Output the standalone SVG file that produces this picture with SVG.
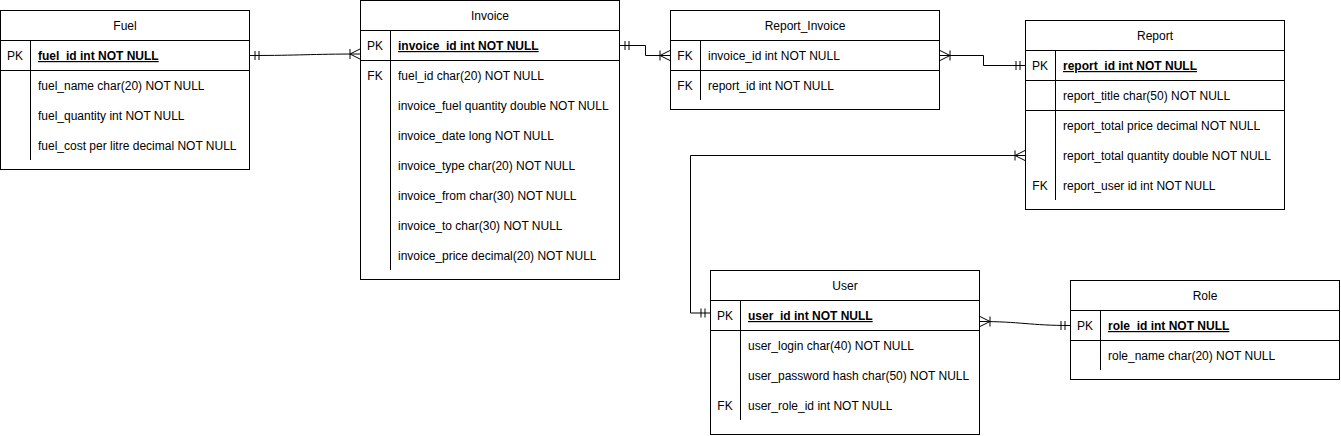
<svg xmlns="http://www.w3.org/2000/svg" width="1341" height="436" viewBox="0 0 1341 436">
<style>
.box{fill:#fff;stroke:#000;stroke-width:1}
.ln{stroke:#000;stroke-width:1;fill:none}
text{font-family:"Liberation Sans",Arial,sans-serif;font-size:12px;fill:#000}
.t{text-anchor:middle}
.k{text-anchor:middle}
.pk{font-weight:bold;text-decoration:underline}
.c{stroke:#000;stroke-width:1;fill:none}
</style>
<defs>
<marker id="one" markerUnits="userSpaceOnUse" markerWidth="20" markerHeight="20" viewBox="0 0 20 20" refX="20" refY="10" orient="auto-start-reverse">
<path d="M15,5.5V14.5M11,5.5V14.5" stroke="#000" stroke-width="1" fill="none"/>
</marker>
<marker id="many" markerUnits="userSpaceOnUse" markerWidth="20" markerHeight="20" viewBox="0 0 20 20" refX="20" refY="10" orient="auto-start-reverse">
<path d="M10,10L20,5M10,10L20,15M10,5V15" stroke="#000" stroke-width="1" fill="none"/>
</marker>
</defs>
<rect width="1341" height="436" fill="#fff"/>

<g id="connectors">
<path class="c" d="M250,55.5 C300,55.5 310,54 360,54" marker-start="url(#one)" marker-end="url(#many)"/>
<path class="c" d="M620,45.5 H645.5 V55.5 H670" marker-start="url(#one)" marker-end="url(#many)"/>
<path class="c" d="M940,55.5 H983.5 V65.5 H1025" marker-start="url(#many)" marker-end="url(#one)"/>
<path class="c" d="M1025,155.5 H690.5 V313 H710" marker-start="url(#many)" marker-end="url(#one)"/>
<path class="c" d="M980,321.5 C1020,321.5 1030,325.5 1070,325.5" marker-start="url(#many)" marker-end="url(#one)"/>
</g>

<g id="fuel">
<rect class="box" x="0.5" y="10.5" width="249" height="159"/>
<path class="ln" d="M0,40.5H250M0,70.5H250M30.5,40V160"/>
<text class="t" x="125" y="30">Fuel</text>
<text class="k" x="15" y="60">PK</text>
<text class="pk" x="38" y="60">fuel_id int NOT NULL</text>
<text x="38" y="90">fuel_name char(20) NOT NULL</text>
<text x="38" y="120">fuel_quantity int NOT NULL</text>
<text x="38" y="150">fuel_cost per litre decimal NOT NULL</text>
</g>

<g id="invoice">
<rect class="box" x="360.5" y="0.5" width="259" height="279"/>
<path class="ln" d="M360,30.5H620M360,60.5H620M390.5,30V270"/>
<text class="t" x="490" y="20">Invoice</text>
<text class="k" x="375" y="50">PK</text>
<text class="pk" x="398" y="50">invoice_id int NOT NULL</text>
<text class="k" x="375" y="80">FK</text>
<text x="398" y="80">fuel_id char(20) NOT NULL</text>
<text x="398" y="110">invoice_fuel quantity double NOT NULL</text>
<text x="398" y="140">invoice_date long NOT NULL</text>
<text x="398" y="170">invoice_type char(20) NOT NULL</text>
<text x="398" y="200">invoice_from char(30) NOT NULL</text>
<text x="398" y="230">invoice_to char(30) NOT NULL</text>
<text x="398" y="260">invoice_price decimal(20) NOT NULL</text>
</g>

<g id="report_invoice">
<rect class="box" x="670.5" y="10.5" width="269" height="99"/>
<path class="ln" d="M670,40.5H940M670,70.5H940M700.5,40V100"/>
<text class="t" x="805" y="30">Report_Invoice</text>
<text class="k" x="685" y="60">FK</text>
<text x="708" y="60">invoice_id int NOT NULL</text>
<text class="k" x="685" y="90">FK</text>
<text x="708" y="90">report_id int NOT NULL</text>
</g>

<g id="report">
<rect class="box" x="1025.5" y="20.5" width="259" height="189"/>
<path class="ln" d="M1025,50.5H1285M1025,80.5H1285M1025,110.5H1285M1055.5,50V200"/>
<text class="t" x="1155" y="40">Report</text>
<text class="k" x="1040" y="70">PK</text>
<text class="pk" x="1063" y="70">report_id int NOT NULL</text>
<text x="1063" y="100">report_title char(50) NOT NULL</text>
<text x="1063" y="130">report_total price decimal NOT NULL</text>
<text x="1063" y="160">report_total quantity double NOT NULL</text>
<text class="k" x="1040" y="190">FK</text>
<text x="1063" y="190">report_user id int NOT NULL</text>
</g>

<g id="user">
<rect class="box" x="710.5" y="270.5" width="269" height="164"/>
<path class="ln" d="M710,300.5H980M710,330.5H980M740.5,300V420"/>
<text class="t" x="845" y="290">User</text>
<text class="k" x="725" y="320">PK</text>
<text class="pk" x="748" y="320">user_id int NOT NULL</text>
<text x="748" y="350">user_login char(40) NOT NULL</text>
<text x="748" y="380">user_password hash char(50) NOT NULL</text>
<text class="k" x="725" y="410">FK</text>
<text x="748" y="410">user_role_id int NOT NULL</text>
</g>

<g id="role">
<rect class="box" x="1070.5" y="280.5" width="269" height="99"/>
<path class="ln" d="M1070,310.5H1340M1070,340.5H1340M1100.5,310V370"/>
<text class="t" x="1205" y="300">Role</text>
<text class="k" x="1085" y="330">PK</text>
<text class="pk" x="1108" y="330">role_id int NOT NULL</text>
<text x="1108" y="360">role_name char(20) NOT NULL</text>
</g>
</svg>
